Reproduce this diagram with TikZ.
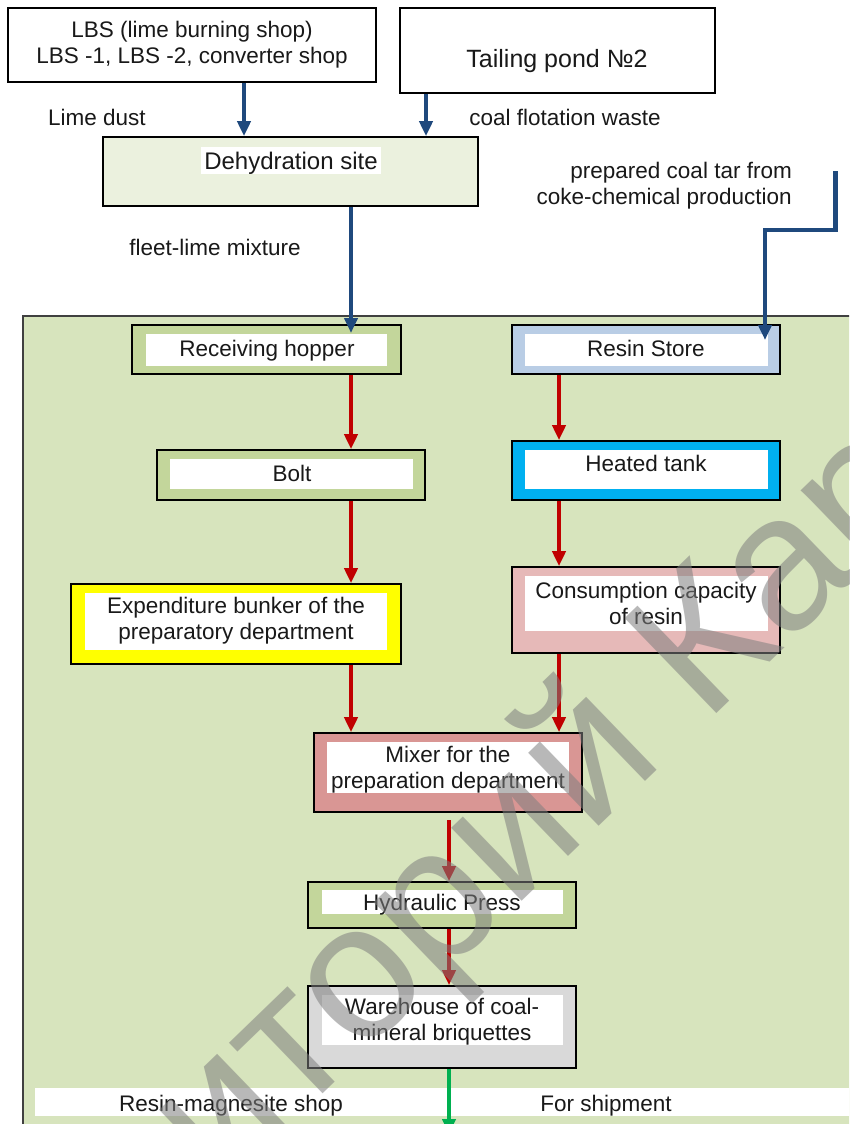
\documentclass[tikz,border=0pt]{standalone}
\usepackage{fontspec}
\setmainfont{Liberation Sans}
\usetikzlibrary{arrows.meta}
\definecolor{panelgreen}{HTML}{D7E4BD}
\definecolor{dehydfill}{HTML}{EBF1DE}
\definecolor{olivefill}{HTML}{C3D69B}
\definecolor{resinfill}{HTML}{B9CDE5}
\definecolor{tankfill}{HTML}{00B0F0}
\definecolor{consfill}{HTML}{E6B9B8}
\definecolor{mixfill}{HTML}{D99694}
\definecolor{expfill}{HTML}{FFFF00}
\definecolor{warefill}{HTML}{D9D9D9}
\definecolor{flowred}{HTML}{C00000}
\definecolor{flowblue}{HTML}{1F497D}
\definecolor{flowgreen}{HTML}{00B050}
\definecolor{wmgray}{HTML}{7F7F7F}
\begin{document}
\begin{tikzpicture}[x=1pt,y=-1pt,
  every node/.style={font=\fontsize{22.5}{26}\selectfont},
  outerbox/.style={draw=black, line width=1.6pt, inner sep=0pt, rectangle},
  innerbox/.style={fill=white, inner sep=0pt, rectangle},
  txt/.style={inner sep=0pt, align=center, text=black!90, text height=16pt, text depth=0pt},
  txtm/.style={inner sep=0pt, align=center, text=black!90},
  redflow/.style={color=flowred, line width=4pt, -{Triangle[width=13pt,length=15pt]}},
  blueflow/.style={color=flowblue, line width=4.5pt, line join=miter, -{Triangle[width=13pt,length=15pt]}},
  greenflow/.style={color=flowgreen, line width=4pt, -{Triangle[width=13pt,length=15pt]}}
]
\useasboundingbox (0,0) rectangle (849,1124);
\clip (0,0) rectangle (849,1124);
\fill[white] (0,0) rectangle (849,1124);

% column coordinates
\coordinate (colL) at (351,0);
\coordinate (colR) at (559,0);
\coordinate (colC) at (449,0);
\coordinate (colLbs) at (244,0);
\coordinate (colTail) at (426,0);

% top sources
\node[outerbox, fill=white, minimum width=368pt, minimum height=74pt] (lbs) at (192,45) {};
\node[txtm] (lbsT) at (192,45) {LBS (lime burning shop)\\LBS -1, LBS -2, converter shop};
\node[outerbox, fill=white, minimum width=315pt, minimum height=85pt] (tail) at (557.5,50.5) {};
\node[txt, text height=18pt, font=\fontsize{25}{30}\selectfont] (tailT) at (557,58) {Tailing pond №2};

\node[txt] (limeL) at (97,117) {Lime dust};
\node[txt] (coalL) at (565,117) {coal flotation waste};

% dehydration
\node[outerbox, fill=dehydfill, minimum width=375pt, minimum height=69pt] (dehyd) at (290.5,171.5) {};
\node[txt, fill=white, text height=17pt, minimum width=180pt, minimum height=27pt, font=\fontsize{24}{28}\selectfont] (dehydT) at (291,160.5) {Dehydration site};

\node[txtm, align=right, anchor=east] (tarL) at (792,185.5) {prepared coal tar from\\coke-chemical production};
\node[txt] (fleetL) at (215,247) {fleet-lime mixture};

% big panel
\node[draw=black!75, line width=1.2pt, fill=panelgreen, inner sep=0pt, minimum width=857pt, minimum height=824pt] (panel) at (451.5,728) {};

% receiving hopper
\node[outerbox, fill=olivefill, minimum width=269pt, minimum height=49pt] (rh) at (266.5,349.5) {};
\node[innerbox, minimum width=241pt, minimum height=32pt] (rhW) at (266.5,350) {};
\node[txt] (rhT) at (267,348) {Receiving hopper};

% resin store
\node[outerbox, fill=resinfill, minimum width=268pt, minimum height=49pt] (rs) at (646,349.5) {};
\node[innerbox, minimum width=243pt, minimum height=32pt] (rsW) at (646.5,350) {};
\node[txt] (rsT) at (646,348) {Resin Store};

% bolt
\node[outerbox, fill=olivefill, minimum width=268pt, minimum height=50pt] (bolt) at (291,475) {};
\node[innerbox, minimum width=243pt, minimum height=30pt] (boltW) at (291.5,474) {};
\node[txt] (boltT) at (292,473) {Bolt};

% heated tank
\node[outerbox, fill=tankfill, minimum width=268pt, minimum height=59pt] (ht) at (646,470.5) {};
\node[innerbox, minimum width=243pt, minimum height=39pt] (htW) at (646.5,469.5) {};
\node[txt] (htT) at (646,463) {Heated tank};

% expenditure bunker
\node[outerbox, fill=expfill, minimum width=330pt, minimum height=80pt] (exp) at (236,624) {};
\node[innerbox, minimum width=302pt, minimum height=57pt] (expW) at (236,621.5) {};
\node[txtm] (expT) at (236,620.5) {Expenditure bunker of the\\preparatory department};

% consumption capacity
\node[outerbox, fill=consfill, minimum width=268pt, minimum height=86pt] (cons) at (646,610) {};
\node[innerbox, minimum width=243pt, minimum height=55pt] (consW) at (646.5,603.5) {};
\node[txtm] (consT) at (646,603.5) {Consumption capacity\\of resin};

% mixer
\node[outerbox, fill=mixfill, minimum width=268pt, minimum height=79pt] (mix) at (448,772.5) {};
\node[innerbox, minimum width=242pt, minimum height=51pt] (mixW) at (448,767.5) {};
\node[txtm] (mixT) at (448,770) {Mixer for the\\preparation department};

% hydraulic press
\node[outerbox, fill=olivefill, minimum width=268pt, minimum height=46pt] (press) at (442,905) {};
\node[innerbox, minimum width=241pt, minimum height=24pt] (pressW) at (442.5,902) {};
\node[txt] (pressT) at (442,902) {Hydraulic Press};

% warehouse
\node[outerbox, fill=warefill, minimum width=268pt, minimum height=82pt] (ware) at (442,1027) {};
\node[innerbox, minimum width=241pt, minimum height=50pt] (wareW) at (442.5,1020) {};
\node[txtm] (wareT) at (442,1022) {Warehouse of coal-\\mineral briquettes};

% bottom band
\node[fill=white, inner sep=0pt, minimum width=830pt, minimum height=28pt] (band) at (450,1102) {};
\node[txt] (rmsL) at (231,1103) {Resin-magnesite shop};
\node[txt] (shipL) at (606,1103) {For shipment};

% blue flows
\coordinate (rhIn) at (351,333);
\coordinate (tarStart) at (835.5,171);
\coordinate (tarBend) at (765,230);
\coordinate (rsIn) at (765,340);
\draw[blueflow] (lbs.south -| colLbs) -- (dehyd.north -| colLbs);
\draw[blueflow] (tail.south -| colTail) -- (dehyd.north -| colTail);
\draw[blueflow] (dehyd.south -| colL) -- (rhIn);
\draw[blueflow] (tarStart) |- (tarBend) -- (rsIn);

% red flows
\coordinate (mixOut) at (449,820);
\draw[redflow] (rh.south -| colL) -- (bolt.north -| colL);
\draw[redflow] (rs.south -| colR) -- (ht.north -| colR);
\draw[redflow] (bolt.south -| colL) -- (exp.north -| colL);
\draw[redflow] (ht.south -| colR) -- (cons.north -| colR);
\draw[redflow] (exp.south -| colL) -- (mix.north -| colL);
\draw[redflow] (cons.south -| colR) -- (mix.north -| colR);
\draw[redflow] (mixOut) -- (press.north -| colC);
\draw[redflow] (press.south -| colC) -- (ware.north -| colC);

% green flow
\coordinate (shipEnd) at (449,1134);
\draw[greenflow] (ware.south -| colC) -- (shipEnd);

% watermark
\node[anchor=base west, rotate=44, text=wmgray, opacity=0.55, inner sep=0pt, font=\fontsize{192}{192}\selectfont] (wm) at (220,1193) {иторий Кар};
\end{tikzpicture}
\end{document}
